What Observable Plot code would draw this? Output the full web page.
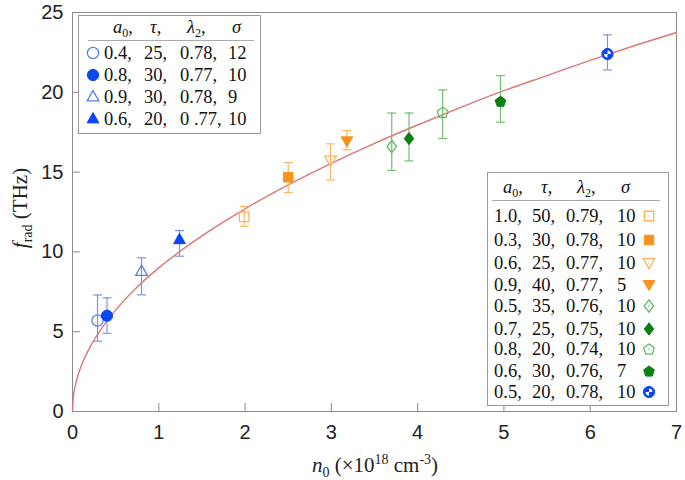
<!DOCTYPE html>
<html><head><meta charset="utf-8">
<script src="https://cdn.jsdelivr.net/npm/d3@7"></script>
<script src="https://cdn.jsdelivr.net/npm/@observablehq/plot@0.6"></script>
<style>
body{margin:0;background:#fff;}
#wrap{position:relative;width:685px;height:480px;overflow:hidden;}
.box{position:absolute;border:1px solid #9a9a9a;background:#fff;}
.sep{position:absolute;height:0;border-top:1px solid #aaa;}
.t{position:absolute;white-space:pre;line-height:20px;height:20px;margin-top:-10px;font-family:"Liberation Serif",serif;font-size:18.5px;color:#111;}
.t sub{font-size:12px;vertical-align:-4px;line-height:0;}
.sym{position:absolute;}
</style></head><body><div id="wrap"></div>
<script>
// ---- data ----
const xTicks = [0,1,2,3,4,5,6,7];
const yTicks = [0,5,10,15,20,25];
const n0    = [0.29, 0.40, 0.80, 1.24, 1.99, 2.50, 2.99, 3.18, 3.70, 3.90, 4.29, 4.96, 6.20];
const frad  = [5.7, 6.0, 8.77, 10.76, 12.2, 14.68, 15.72, 16.93, 16.6, 17.1, 18.75, 19.44, 22.4];
const errLo = [4.4, 4.9, 7.31, 9.73, 11.6, 13.72, 14.5, 16.4, 15.1, 15.7, 17.1, 18.13, 21.4];
const errHi = [7.3, 7.12, 9.63, 11.34, 12.85, 15.6, 16.77, 17.6, 18.7, 18.7, 20.15, 21.05, 23.6];
const a0     = ["0.4","0.8","0.9","0.6","1.0","0.3","0.6","0.9","0.5","0.7","0.8","0.6","0.5"];
const tau    = ["25","30","30","20","50","30","25","40","35","25","20","30","20"];
const lambda2= ["0.78","0.77","0.78","0 .77","0.79","0.78","0.77","0.77","0.76","0.75","0.74","0.76","0.78"];
const sigma  = ["12","10","9","10","10","10","10","5","10","10","10","7","10"];
const shape  = ["circle","circle","tri","tri","square","square","triDown","triDown","diamond","diamond","pentagon","pentagon","ball"];
const filled = [false,true,false,true,false,true,false,true,false,true,false,true,true];
const group  = ["blue","blue","blue","blue","orange","orange","orange","orange","green","green","green","green","blue"];
const legend1 = [0,1,2,3];
const legend2 = [4,5,6,7,8,9,10,11,12];
// theory curve, values
const curveN = [0, 0.01, 0.03, 0.06, 0.1, 0.2, 0.35, 0.5, 0.75, 1, 1.5, 2, 2.5, 3, 3.5, 4, 4.5, 5, 5.5, 6, 6.5, 7];
const curveF = [0, 0.9, 1.55, 2.2, 2.85, 4.0, 5.3, 6.35, 7.8, 9.0, 11.0, 12.7, 14.2, 15.55, 16.8, 17.95, 19.05, 20.1, 21.05, 22.0, 22.9, 23.75];

// ---- styles ----
const COL = {
  blue:   {fill:"#0a46f2", open:"#5a7fe6", err:"#7b96e8"},
  orange: {fill:"#f7941d", open:"#f8b463", err:"#f6b868"},
  green:  {fill:"#0a7f12", open:"#5fba5f", err:"#72bf72"}
};
const rad = s => Math.sqrt(s / Math.PI);
const SYM = {
  circle: d3.symbolCircle,
  tri: {draw(c,s){const r=rad(s);c.moveTo(0,-r*1.15);c.lineTo(r*1.05,r*0.7);c.lineTo(-r*1.05,r*0.7);c.closePath();}},
  triDown: {draw(c,s){const r=rad(s);c.moveTo(0,r*1.0);c.lineTo(r*1.05,-r*0.8);c.lineTo(-r*1.05,-r*0.8);c.closePath();}},
  square: {draw(c,s){const r=rad(s)*0.85;c.rect(-r,-r,2*r,2*r);}},
  diamond: {draw(c,s){const r=rad(s);c.moveTo(0,-r*1.1);c.lineTo(r*0.85,0);c.lineTo(0,r*1.1);c.lineTo(-r*0.85,0);c.closePath();}},
  pentagon: {draw(c,s){const r=rad(s)*1.0;for(let k=0;k<5;k++){const a=-Math.PI/2+k*2*Math.PI/5;const x=r*Math.cos(a),y=r*Math.sin(a)+r*0.1;k?c.lineTo(x,y):c.moveTo(x,y);}c.closePath();}},
  ball: d3.symbolCircle,
  ballInner: {draw(c,s){const r=rad(s);c.moveTo(0,0);c.arc(0,0,r,-Math.PI/2,0);c.closePath();c.moveTo(0,0);c.arc(0,0,r,Math.PI/2,Math.PI);c.closePath();}},
  dot: {draw(c,s){const r=rad(s);c.moveTo(r,0);c.arc(0,0,r,0,2*Math.PI);}},
  cap: {draw(c,s){const r=rad(s);c.moveTo(-r,0);c.lineTo(r,0);}}
};

const idx = n0.map((_, i) => i);
const markR = 5.6;

const pointMarks = idx.flatMap(i => {
  const col = COL[group[i]];
  const base = {x: j => n0[j], y: j => frad[j], r: markR, symbol: SYM[shape[i]]};
  if (shape[i] === "ball") {
    return [
      Plot.dot([i], {...base, fill: col.fill, stroke: col.fill, strokeWidth: 1}),
      Plot.dot([i], {...base, r: 3.4, symbol: SYM.ballInner, fill: "#fff", stroke: "none"})
    ];
  }
  return [Plot.dot([i], filled[i]
    ? {...base, fill: col.fill, stroke: col.fill, strokeWidth: 1}
    : {...base, fill: "none", stroke: col.open, strokeWidth: 1.3})];
});

const W = 685, H = 480, ML = 72, MR = 9, MT = 12, MB = 69;
const chart = Plot.plot({
  width: W, height: H,
  marginLeft: ML, marginRight: MR, marginTop: MT, marginBottom: MB,
  style: {fontFamily: "'Liberation Sans', Arial, sans-serif", fontSize: "20px", color: "#222", background: "#fff"},
  x: {domain: [0, 7]},
  y: {domain: [0, 25]},
  color: {type: "identity"},
  marks: [
    Plot.axisX({ticks: xTicks, tickFormat: d => String(d), tickSize: 0, tickPadding: 13, label: null, fontSize: 20}),
    Plot.axisY({ticks: yTicks, tickFormat: d => String(d), tickSize: 0, tickPadding: 9, label: null, fontSize: 20}),
    Plot.tickX(xTicks, {x: d => d, stroke: "#8a8a8a", insetTop: H - MT - MB - 8}),
    Plot.tickY(yTicks, {y: d => d, stroke: "#8a8a8a", insetRight: W - ML - MR - 8}),
    Plot.frame({stroke: "#8a8a8a"}),
    Plot.line(curveN.map((x, i) => ({x, y: curveF[i]})), {x: "x", y: "y", stroke: "#e07575", strokeWidth: 1.4, curve: "monotone-x"}),
    Plot.ruleX(idx, {x: i => n0[i], y1: i => errLo[i], y2: i => errHi[i], stroke: i => COL[group[i]].err, strokeWidth: 1.2}),
    Plot.dot(idx, {x: i => n0[i], y: i => errLo[i], symbol: SYM.cap, r: 4.5, stroke: i => COL[group[i]].err, fill: "none", strokeWidth: 1.2}),
    Plot.dot(idx, {x: i => n0[i], y: i => errHi[i], symbol: SYM.cap, r: 4.5, stroke: i => COL[group[i]].err, fill: "none", strokeWidth: 1.2}),
    ...pointMarks
  ]
});

const wrap = document.getElementById("wrap");
wrap.appendChild(chart);

// axis titles
const svg = d3.select(chart);
const yl = svg.append("text")
  .attr("transform", "translate(27,208) rotate(-90)")
  .attr("text-anchor", "middle")
  .attr("font-family", "'Liberation Serif', serif").attr("font-size", 21).attr("fill", "#222");
yl.append("tspan").attr("font-style", "italic").text("f");
yl.append("tspan").attr("font-size", 14).attr("dy", 5).text("rad");
yl.append("tspan").attr("dy", -5).text(" (THz)");

const xl = svg.append("text")
  .attr("x", 375).attr("y", 472)
  .attr("text-anchor", "middle")
  .attr("font-family", "'Liberation Serif', serif").attr("font-size", 21).attr("fill", "#222");
xl.append("tspan").attr("font-style", "italic").text("n");
xl.append("tspan").attr("font-size", 14).attr("dy", 5).text("0");
xl.append("tspan").attr("dy", -5).text(" (\u00d710");
xl.append("tspan").attr("font-size", 14).attr("dy", -8).text("18");
xl.append("tspan").attr("dy", 8).text(" cm");
xl.append("tspan").attr("font-size", 14).attr("dy", -8).text("-3");
xl.append("tspan").attr("dy", 8).text(")");

// ---- legends ----
function el(cls, css, html) {
  const d = document.createElement("div");
  d.className = cls;
  Object.assign(d.style, css);
  if (html != null) d.innerHTML = html;
  wrap.appendChild(d);
  return d;
}
function symbolSvg(i, cx, cy) {
  const col = COL[group[i]];
  const size = markR * markR * Math.PI;
  const ns = "http://www.w3.org/2000/svg";
  const s = document.createElementNS(ns, "svg");
  s.setAttribute("width", 20); s.setAttribute("height", 20);
  s.setAttribute("class", "sym");
  s.style.left = (cx - 10) + "px"; s.style.top = (cy - 10) + "px"; s.style.position = "absolute";
  const p = document.createElementNS(ns, "path");
  p.setAttribute("transform", "translate(10,10)");
  p.setAttribute("d", d3.symbol(SYM[shape[i]], size)());
  if (filled[i]) { p.setAttribute("fill", col.fill); p.setAttribute("stroke", col.fill); }
  else { p.setAttribute("fill", "none"); p.setAttribute("stroke", col.open); p.setAttribute("stroke-width", 1.3); }
  s.appendChild(p);
  if (shape[i] === "ball") {
    const q = document.createElementNS(ns, "path");
    q.setAttribute("transform", "translate(10,10)");
    q.setAttribute("d", d3.symbol(SYM.ballInner, 3.4 * 3.4 * Math.PI)());
    q.setAttribute("fill", "#fff");
    s.appendChild(q);
  } else if (!filled[i] && shape[i] !== "circle" && shape[i] !== "tri") {
    const q = document.createElementNS(ns, "path");
    q.setAttribute("transform", "translate(10,10)");
    q.setAttribute("d", d3.symbol(SYM.dot, 0.8 * 0.8 * Math.PI)());
    q.setAttribute("fill", col.open);
    s.appendChild(q);
  }
  wrap.appendChild(s);
}
const header = ["<i>a</i><sub>0</sub>,", "<i>\u03c4</i>,", "<i>\u03bb</i><sub>2</sub>,", "<i>\u03c3</i>"];

// legend 1 (top-left)
el("box", {left: "78px", top: "15px", width: "181px", height: "117px"});
el("sep", {left: "88px", top: "40px", width: "166px"});
const h1 = [113, 150, 187, 232];
header.forEach((h, k) => el("t", {left: h1[k] + "px", top: "27px"}, h));
const c1 = [104, 144, 180, 228];
const rows1 = [53, 75, 97, 119];
legend1.forEach((i, r) => {
  symbolSvg(i, 93, rows1[r]);
  [a0[i] + ",", tau[i] + ",", lambda2[i] + ",", sigma[i]].forEach((v, k) => el("t", {left: c1[k] + "px", top: rows1[r] + "px"}, v));
});

// legend 2 (bottom-right)
el("box", {left: "487px", top: "172px", width: "180px", height: "232px"});
el("sep", {left: "492px", top: "200px", width: "168px"});
const h2 = [503, 541, 577, 621];
header.forEach((h, k) => el("t", {left: h2[k] + "px", top: "187px"}, h));
const c2 = [494, 532, 566, 617];
const rows2 = [216, 240, 263, 285, 306, 329, 349, 371, 392];
legend2.forEach((i, r) => {
  symbolSvg(i, 649, rows2[r]);
  [a0[i] + ",", tau[i] + ",", lambda2[i] + ",", sigma[i]].forEach((v, k) => el("t", {left: c2[k] + "px", top: rows2[r] + "px"}, v));
});
</script></body></html>
